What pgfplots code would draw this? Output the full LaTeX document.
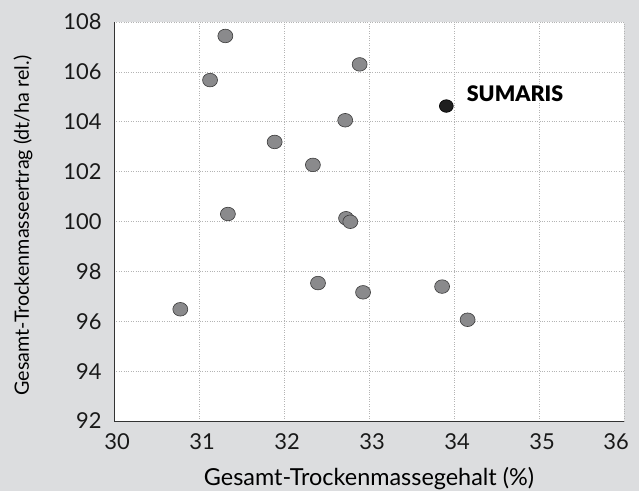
\documentclass[border=0pt]{standalone}
\usepackage{fontspec}
\setmainfont{Lato}
\newfontfamily\latoblack{Lato Black}
\usepackage{pgfplots}
\pgfplotsset{compat=1.18}
\definecolor{bgc}{HTML}{DCDDDF}
\definecolor{ptc}{HTML}{8A8A8C}
\definecolor{ptedge}{HTML}{3A3A3A}
\definecolor{gridc}{HTML}{B4B4B4}
\definecolor{axc}{HTML}{333333}
\begin{document}
\begin{tikzpicture}
\path[use as bounding box, fill=bgc] (0,0) rectangle (639bp,491bp);
\begin{axis}[
  at={(114bp,70bp)}, anchor=south west,
  scale only axis, width=510bp, height=399bp,
  xmin=30, xmax=36, ymin=92, ymax=108,
  xtick={30,31,...,35}, ytick={92,94,...,108},
  extra x ticks={36},
  extra x tick style={xticklabel style={xshift=-11bp}},
  axis background/.style={fill=white},
  axis x line*=bottom, axis y line*=left,
  axis line style={axc, line width=1pt, -},
  major tick length=0pt,
  grid=major,
  major grid style={gridc, dotted, line width=0.6pt},
  /pgf/number format/assume math mode=true,
  tick label style={font=\fontsize{22}{26}\selectfont, text=black!90},
  yticklabel style={xshift=-9bp},
  xticklabel style={yshift=-9bp, xshift=3bp},
  xlabel={Gesamt-Trockenmassegehalt (\%)},
  ylabel={Gesamt-Trockenmasseertrag (dt/ha rel.)},
  xlabel style={font=\fontsize{23.5}{27}\selectfont, at={(axis description cs:0.5,-0.1604)}, anchor=base},
  ylabel style={font=\fontsize{19.8}{23}\selectfont, at={(axis description cs:-0.1784,0.49)}, anchor=center},
  clip=false,
]
\addplot[only marks, mark=*, mark size=6.8bp,
  mark options={fill=ptc, draw=ptedge, line width=0.6pt, xscale=1.1}]
  coordinates {
  (31.31,107.44) (31.13,105.67) (31.89,103.19) (32.34,102.27)
  (31.34,100.30) (32.89,106.30) (32.72,104.06) (32.73,100.13)
  (32.78,99.99) (32.40,97.53) (32.93,97.16) (33.86,97.39)
  (34.16,96.06) (30.78,96.48)
};
\addplot[only marks, mark=*, mark size=6.3bp,
  mark options={fill=black!88, draw=black, line width=0.6pt, xscale=1.1}]
  coordinates {(33.91,104.63)}
  node[anchor=base west, xshift=17bp, yshift=5bp, font=\fontsize{21.5}{26}\latoblack] {SUMARIS};
\end{axis}
\end{tikzpicture}
\end{document}
